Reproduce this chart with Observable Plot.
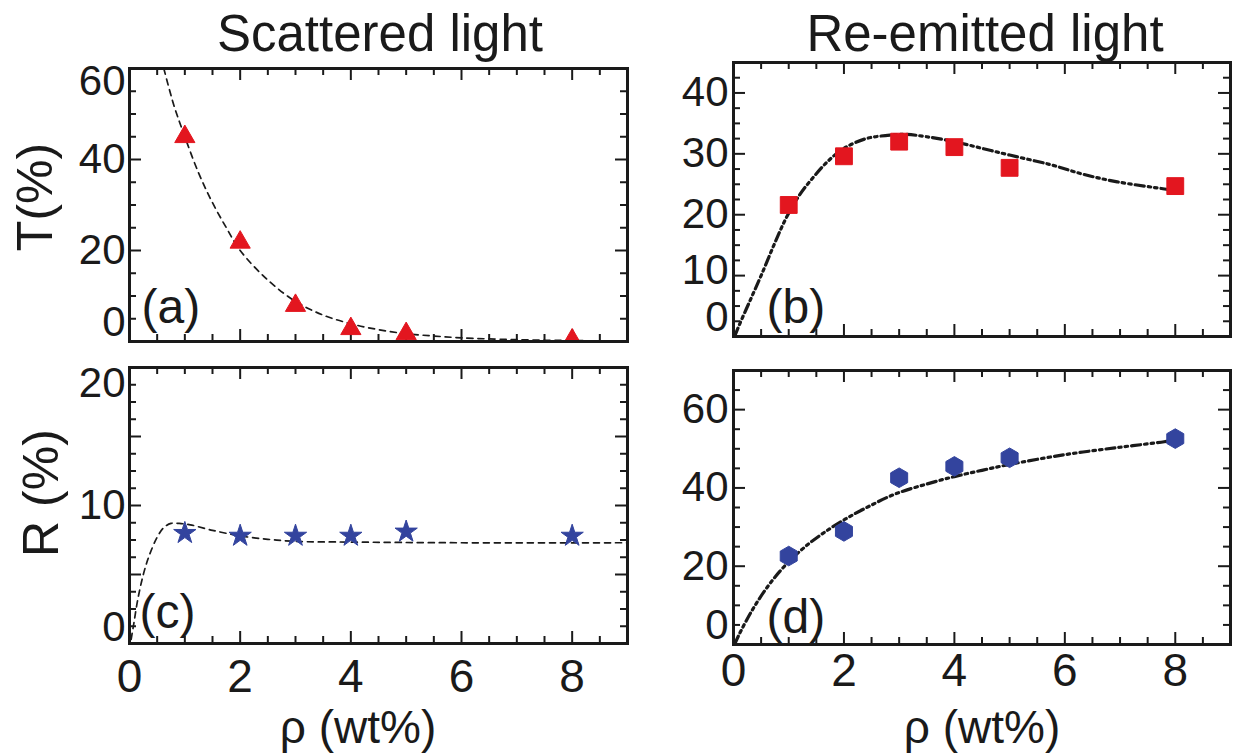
<!DOCTYPE html>
<html>
<head>
<meta charset="utf-8">
<script src="https://cdn.jsdelivr.net/npm/d3@7"></script>
<script src="https://cdn.jsdelivr.net/npm/@observablehq/plot@0.6"></script>
<style>
  body { margin: 0; background: #fff; }
  #fig { position: relative; width: 1236px; height: 755px; overflow: hidden;
         font-family: "Liberation Sans", Arial, Helvetica, sans-serif; color: #1a1a1a; }
  .panel { position: absolute; }
  .lbl { position: absolute; white-space: nowrap; line-height: 1; }
</style>
</head>
<body>
<div id="fig"></div>
<script>
// ---------- data ----------
const conc = [1, 2, 3, 4, 5, 8];                       // ρ (wt%)
const tScattered = [45, 21.8, 7.9, 2.8, 1.7, 0.3];     // (a) T (%)
const rScattered = [8.0, 7.8, 7.8, 7.8, 8.1, 7.8];     // (c) R (%)
const tReemitted = [21.6, 29.6, 32.0, 31.1, 27.7, 24.7]; // (b) T (%)
const rReemitted = [22.6, 28.9, 42.6, 45.5, 47.7, 52.6]; // (d) R (%)

// fitted curves
const fitAx = [0.62, 0.8, 1, 1.25, 1.5, 1.75, 2, 2.5, 3, 3.5, 4, 4.5, 5, 5.5, 6, 7, 8, 9];
const fitAy = [60, 52, 45, 37, 30.5, 25, 20, 13.5, 8.8, 5.8, 3.9, 2.6, 1.7, 1.2, 0.8, 0.4, 0.2, 0.1];
const fitBx = [0.02, 0.1, 0.3, 0.5, 0.75, 0.95, 1.2, 1.45, 1.7, 2.0, 2.4, 2.75, 3.1, 3.5, 4, 4.5, 5, 5.75, 6.35, 6.95, 7.75, 7.9];
const fitBy = [0, 1.8, 5.9, 10.0, 15.4, 19.4, 23.3, 26.2, 28.7, 30.9, 32.5, 33.0, 33.2, 32.8, 32.0, 30.9, 29.8, 28.2, 26.6, 25.4, 24.3, 24.1];
const fitCx = [0.03, 0.08, 0.15, 0.25, 0.35, 0.5, 0.62, 0.75, 0.9, 1.1, 1.5, 2, 2.5, 3, 4, 6, 9];
const fitCy = [0.3, 1.5, 3.2, 5.0, 6.3, 7.7, 8.4, 8.7, 8.7, 8.6, 8.2, 7.8, 7.55, 7.4, 7.35, 7.3, 7.3];
const fitDx = [0.02, 0.1, 0.34, 0.64, 0.91, 1.24, 1.6, 2.02, 2.44, 2.92, 3.5, 4, 4.5, 5, 6, 7, 7.8, 8];
const fitDy = [0, 2.5, 8.8, 15.2, 19.8, 24.3, 28.2, 32.0, 35.2, 38.4, 41.0, 42.9, 44.5, 46.0, 48.5, 50.4, 51.8, 52.3];

// ticks
const xMajor = [0, 2, 4, 6, 8];
const xMinor = [0.5, 1, 1.5, 2.5, 3, 3.5, 4.5, 5, 5.5, 6.5, 7, 7.5, 8.5];
const yMajorA = [0, 20, 40, 60];
const yMinorA = [5, 10, 15, 25, 30, 35, 45, 50, 55];
const yMajorB = [0, 10, 20, 30, 40];
const yMinorB = [2.5, 5, 7.5, 12.5, 15, 17.5, 22.5, 25, 27.5, 32.5, 35, 37.5, 42.5];
const yMajorC = [0, 5, 10, 15, 20];
const yMinorC = [1.25, 2.5, 3.75, 6.25, 7.5, 8.75, 11.25, 12.5, 13.75, 16.25, 17.5, 18.75];
const yMajorD = [0, 20, 40, 60];
const yMinorD = [5, 10, 15, 25, 30, 35, 45, 50, 55, 65];

const RED = "#e3161f";
const BLUE = "#33449e";
const INK = "#1a1a1a";
const FONT = "'Liberation Sans', Arial, Helvetica, sans-serif";

function makePanel(c) {
  const fw = c.W - c.ml - c.mr, fh = c.H - c.mt - c.mb;
  const pts = conc.map((x, i) => ({x, y: c.ys[i]}));
  const fit = c.fx.map((x, i) => ({x, y: c.fy[i]}));
  const majL = 12, minL = 7;
  const marks = [];
  // inward ticks on all four sides
  marks.push(Plot.tickX(xMajor, {x: d => d, insetTop: fh - majL, stroke: INK, strokeWidth: 2}));
  marks.push(Plot.tickX(xMajor, {x: d => d, insetBottom: fh - majL, stroke: INK, strokeWidth: 2}));
  marks.push(Plot.tickX(xMinor, {x: d => d, insetTop: fh - minL, stroke: INK, strokeWidth: 2}));
  marks.push(Plot.tickX(xMinor, {x: d => d, insetBottom: fh - minL, stroke: INK, strokeWidth: 2}));
  marks.push(Plot.tickY(c.yMajor, {y: d => d, insetRight: fw - majL, stroke: INK, strokeWidth: 2}));
  marks.push(Plot.tickY(c.yMajor, {y: d => d, insetLeft: fw - majL, stroke: INK, strokeWidth: 2}));
  marks.push(Plot.tickY(c.yMinor, {y: d => d, insetRight: fw - minL, stroke: INK, strokeWidth: 2}));
  marks.push(Plot.tickY(c.yMinor, {y: d => d, insetLeft: fw - minL, stroke: INK, strokeWidth: 2}));
  // fitted curve
  marks.push(Plot.line(fit, {x: "x", y: "y", curve: "catmull-rom", stroke: INK,
    strokeWidth: c.sw, strokeDasharray: c.dash, clip: true}));
  // data points
  marks.push(Plot.dot(pts, {x: "x", y: "y", symbol: c.symbol, fill: c.color, stroke: c.color,
    strokeWidth: 1, r: c.r, clip: true}));
  marks.push(Plot.frame({stroke: INK, strokeWidth: 3}));
  // y tick labels
  for (const g of c.yLabels) {
    marks.push(Plot.text(g.v, {y: d => d, frameAnchor: "left", textAnchor: "end",
      dx: c.ydx, dy: g.dy, text: d => String(d), fontSize: 42, fill: INK}));
  }
  if (c.xLabels) {
    marks.push(Plot.text(xMajor, {x: d => d, frameAnchor: "bottom", lineAnchor: "top",
      dy: c.xPad, text: d => String(d), fontSize: 46, fill: INK}));
  }
  marks.push(Plot.text([c.letter], {frameAnchor: "bottom-left", textAnchor: "start",
    lineAnchor: "bottom", dx: c.ldx, dy: c.ldy, text: d => d, fontSize: 48, fill: INK}));
  return Plot.plot({
    width: c.W, height: c.H,
    marginLeft: c.ml, marginRight: c.mr, marginTop: c.mt, marginBottom: c.mb,
    x: {domain: [0, 9], axis: null},
    y: {domain: c.yDomain, axis: null},
    style: {fontFamily: FONT, background: "transparent", overflow: "visible"},
    marks
  });
}

const fig = document.getElementById("fig");
function place(el, left, top) {
  const wrap = document.createElement("div");
  wrap.className = "panel";
  wrap.style.left = left + "px";
  wrap.style.top = top + "px";
  wrap.appendChild(el);
  fig.appendChild(wrap);
}

const DASH = "6,5";
const DASHDOT = "9,4,2.5,4,2.5,4";

place(makePanel({
  W: 640, H: 360, ml: 129, mt: 68, mr: 13, mb: 19,
  yDomain: [0, 60], yMajor: yMajorA, yMinor: yMinorA,
  yLabels: [{v: [20, 40], dy: 0}, {v: [60], dy: 13}, {v: [0], dy: -19}], ydx: -4,
  ys: tScattered, fx: fitAx, fy: fitAy, symbol: "triangle", color: RED, r: 7.5,
  sw: 1.7, dash: DASH, letter: "(a)", ldx: 12, ldy: -19
}), 0, 0);

place(makePanel({
  W: 640, H: 395, ml: 129, mt: 7, mr: 13, mb: 112,
  yDomain: [0, 20], yMajor: yMajorC, yMinor: yMinorC,
  yLabels: [{v: [10], dy: 0}, {v: [20], dy: 16}, {v: [0], dy: -16}], ydx: -4,
  xLabels: true, xPad: 16,
  ys: rScattered, fx: fitCx, fy: fitCy, symbol: "star", color: BLUE, r: 7,
  sw: 1.7, dash: DASH, letter: "(c)", ldx: 10, ldy: -16
}), 0, 360);

place(makePanel({
  W: 596, H: 360, ml: 93, mt: 62, mr: 6, mb: 24,
  yDomain: [0, 45], yMajor: yMajorB, yMinor: yMinorB,
  yLabels: [{v: [20, 30, 40], dy: 0}, {v: [10], dy: -5}, {v: [0], dy: -19}], ydx: -5,
  ys: tReemitted, fx: fitBx, fy: fitBy, symbol: "square", color: RED, r: 9.5,
  sw: 3.2, dash: DASHDOT, letter: "(b)", ldx: 33, ldy: -14
}), 640, 0);

place(makePanel({
  W: 596, H: 395, ml: 93, mt: 10, mr: 6, mb: 111,
  yDomain: [0, 70], yMajor: yMajorD, yMinor: yMinorD,
  yLabels: [{v: [20, 40, 60], dy: 0}, {v: [0], dy: -19}], ydx: -5,
  xLabels: true, xPad: 9,
  ys: rReemitted, fx: fitDx, fy: fitDy, symbol: "hexagon", color: BLUE, r: 8.5,
  sw: 3.2, dash: DASHDOT, letter: "(d)", ldx: 33, ldy: -12
}), 640, 360);

// text labels (titles and axis titles)
function label(text, cx, baseline, size, rotate) {
  const d = document.createElement("div");
  d.className = "lbl";
  d.textContent = text;
  d.style.fontSize = size + "px";
  if (!rotate) {
    d.style.left = cx + "px";
    d.style.top = (baseline - 0.8465 * size) + "px";
    d.style.transform = "translateX(-50%)";
  } else {
    d.style.left = cx + "px";
    d.style.top = baseline + "px";
    d.style.transform = "translate(-50%, -50%) rotate(-90deg)";
  }
  fig.appendChild(d);
}
label("Scattered light", 380, 51, 51);
label("Re-emitted light", 985, 51, 51);
label("ρ (wt%)", 358, 743, 46);
label("ρ (wt%)", 982, 743, 46);
label("T(%)", 35, 197, 50, true);
label("R (%)", 41, 493, 50, true);
</script>
</body>
</html>
